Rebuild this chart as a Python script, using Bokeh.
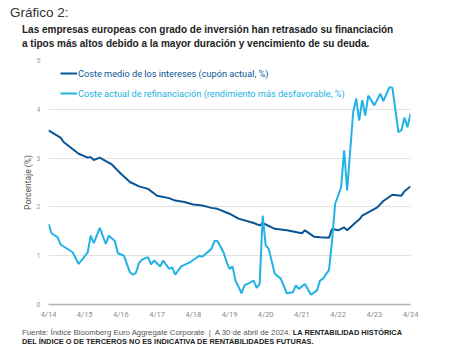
from bokeh.plotting import figure
from bokeh.layouts import column
from bokeh.models import Legend, LegendItem, FixedTicker, Div
from bokeh.embed import file_html
from bokeh.resources import INLINE

# months since April 2014
coupon_months = [0, 4, 5, 10, 13, 14, 15, 17, 19, 21, 24, 27, 30, 33, 36, 40, 42, 45, 48, 51, 54, 56,
                 60, 63, 68, 70, 71, 75, 79, 84, 85, 88, 90, 93, 94, 96, 98, 99, 102, 103, 104, 106,
                 109, 111, 114, 117, 118, 120]
coupon_vals = [3.57, 3.42, 3.33, 3.09, 3.01, 3.02, 2.96, 3.01, 2.94, 2.87, 2.68, 2.51, 2.42, 2.37, 2.23,
               2.18, 2.13, 2.10, 2.05, 2.03, 1.98, 1.96, 1.86, 1.76, 1.67, 1.62, 1.67, 1.55, 1.52, 1.46,
               1.52, 1.39, 1.38, 1.37, 1.55, 1.52, 1.58, 1.52, 1.69, 1.74, 1.82, 1.89, 1.99, 2.12, 2.25,
               2.23, 2.32, 2.42]

refi_months = [0, 1, 3, 4, 8, 10, 13, 14, 15, 17, 19, 20, 22, 23, 25, 27, 28, 29, 30, 31, 33, 34, 35,
               37, 38, 40, 41, 42, 44, 47, 50, 51, 54, 55, 56, 58, 59, 60, 61, 62, 64, 65, 68, 69, 70,
               71, 72, 73, 75, 77, 79, 81, 82, 83, 85, 87, 89, 90, 91, 93, 94, 95, 97, 98, 99, 101,
               102, 103, 104, 105, 106, 108, 110, 111, 113, 114, 116, 117, 118, 119, 120]
refi_vals = [1.65, 1.46, 1.38, 1.23, 1.07, 0.83, 1.07, 1.41, 1.26, 1.57, 1.24, 1.41, 1.30, 1.05, 1.00,
             0.66, 0.61, 0.65, 0.85, 0.92, 0.97, 0.82, 0.90, 0.78, 0.90, 0.73, 0.76, 0.61, 0.78, 0.87,
             1.00, 0.98, 1.14, 1.30, 1.30, 1.07, 0.88, 0.73, 0.78, 0.49, 0.23, 0.39, 0.49, 0.34, 0.42,
             1.82, 1.21, 1.14, 0.63, 0.53, 0.23, 0.25, 0.39, 0.32, 0.42, 0.20, 0.29, 0.49, 0.53, 0.71,
             1.31, 2.06, 2.40, 3.16, 2.34, 3.94, 4.22, 3.77, 4.19, 3.87, 4.28, 4.08, 4.32, 4.17, 4.45,
             4.44, 3.53, 3.57, 3.83, 3.63, 3.91]

tick_months = [0, 12, 24, 36, 48, 60, 72, 84, 96, 108, 120]
tick_labels = ["4/14", "4/15", "4/16", "4/17", "4/18", "4/19", "4/20", "4/21", "4/22", "4/23", "4/24"]
y_ticks = [0, 1, 2, 3, 4, 5]

title_text = "Gráfico 2:"
subtitle_lines = ["Las empresas europeas con grado de inversión han retrasado su financiación",
                  "a tipos más altos debido a la mayor duración y vencimiento de su deuda."]
source_text = "Fuente: Índice Bloomberg Euro Aggregate Corporate  |  A 30 de abril de 2024."
disclaimer_lines = ["LA RENTABILIDAD HISTÓRICA",
                    "DEL ÍNDICE O DE TERCEROS NO ES INDICATIVA DE RENTABILIDADES FUTURAS."]

DARK = "#0a5596"
LIGHT = "#22b2e3"
FONT = "Roboto"

# ---- header (SVG text) ----
head_svg = (
    '<svg xmlns="http://www.w3.org/2000/svg" width="471" height="55" style="display:block">'
    f'<text x="10" y="17" font-family="{FONT}" font-size="13.5px" fill="#333333">{title_text}</text>'
    f'<text x="22" y="32.5" font-family="{FONT}" font-size="10px" font-weight="bold" fill="#222222">{subtitle_lines[0]}</text>'
    f'<text x="22" y="47" font-family="{FONT}" font-size="10px" font-weight="bold" fill="#222222">{subtitle_lines[1]}</text>'
    '</svg>'
)
head = Div(text=head_svg, width=471, height=55, margin=(0, 0, 0, 0))

# ---- chart ----
p = figure(width=471, height=266, output_backend="svg", toolbar_location=None,
           x_range=(0, 120), y_range=(0, 5),
           min_border_left=48, min_border_right=61, min_border_top=5, min_border_bottom=17)
p.outline_line_color = None
p.background_fill_color = "white"

r1 = p.line(coupon_months, coupon_vals, line_color=DARK, line_width=2)
r2 = p.line(refi_months, refi_vals, line_color=LIGHT, line_width=2)

p.xaxis.ticker = FixedTicker(ticks=tick_months)
p.xaxis.major_label_overrides = {m: l for m, l in zip(tick_months, tick_labels)}
p.xaxis.axis_line_color = "#b3b3b3"
p.xaxis.axis_line_width = 1.5
p.xaxis.major_tick_line_color = None
p.xaxis.minor_tick_line_color = None
p.xaxis.major_tick_out = 0
p.xaxis.major_tick_in = 0
p.xaxis.major_label_standoff = 5
p.xaxis.major_label_text_font = FONT
p.xaxis.major_label_text_font_size = "7.5px"
p.xaxis.major_label_text_color = "#8a8a8a"

p.yaxis.ticker = FixedTicker(ticks=y_ticks)
p.yaxis.axis_line_color = None
p.yaxis.major_tick_line_color = None
p.yaxis.minor_tick_line_color = None
p.yaxis.major_tick_out = 0
p.yaxis.major_tick_in = 0
p.yaxis.major_label_standoff = 8
p.yaxis.major_label_text_font = FONT
p.yaxis.major_label_text_font_size = "7px"
p.yaxis.major_label_text_color = "#9a9a9a"
p.yaxis.axis_label = "Porcentaje (%)"
p.yaxis.axis_label_standoff = 1
p.yaxis.axis_label_text_font = FONT
p.yaxis.axis_label_text_font_size = "8.5px"
p.yaxis.axis_label_text_font_style = "normal"
p.yaxis.axis_label_text_color = "#555555"

p.xgrid.grid_line_color = None
p.ygrid.ticker = FixedTicker(ticks=y_ticks)
p.ygrid.grid_line_color = "#e2e2e2"
p.ygrid.grid_line_width = 1

for rend, lab, col, ypos in [(r1, "Coste medio de los intereses (cupón actual, %)", DARK, 225),
                             (r2, "Coste actual de refinanciación (rendimiento más desfavorable, %)", LIGHT, 205)]:
    lg = Legend(items=[LegendItem(label=lab, renderers=[rend])], location=(12, ypos),
                background_fill_alpha=0, border_line_alpha=0, padding=0, margin=0, spacing=0,
                glyph_width=17, glyph_height=12, label_height=12, label_standoff=1,
                label_text_font=FONT, label_text_font_size="9.2px", label_text_color=col)
    p.add_layout(lg, "center")

# ---- footer (SVG text) ----
foot_svg = (
    '<svg xmlns="http://www.w3.org/2000/svg" width="471" height="38" style="display:block">'
    f'<text x="22" y="14" font-family="{FONT}" font-size="7.8px" fill="#555555" style="white-space:pre">{source_text} '
    f'<tspan font-weight="bold" font-size="7.4px" fill="#222222">{disclaimer_lines[0]}</tspan></text>'
    f'<text x="22" y="23" font-family="{FONT}" font-size="7.4px" font-weight="bold" fill="#222222">{disclaimer_lines[1]}</text>'
    '</svg>'
)
foot = Div(text=foot_svg, width=471, height=38, margin=(0, 0, 0, 0))

layout = column(head, p, foot, spacing=0)
open("out.html", "w").write(file_html(layout, INLINE))
